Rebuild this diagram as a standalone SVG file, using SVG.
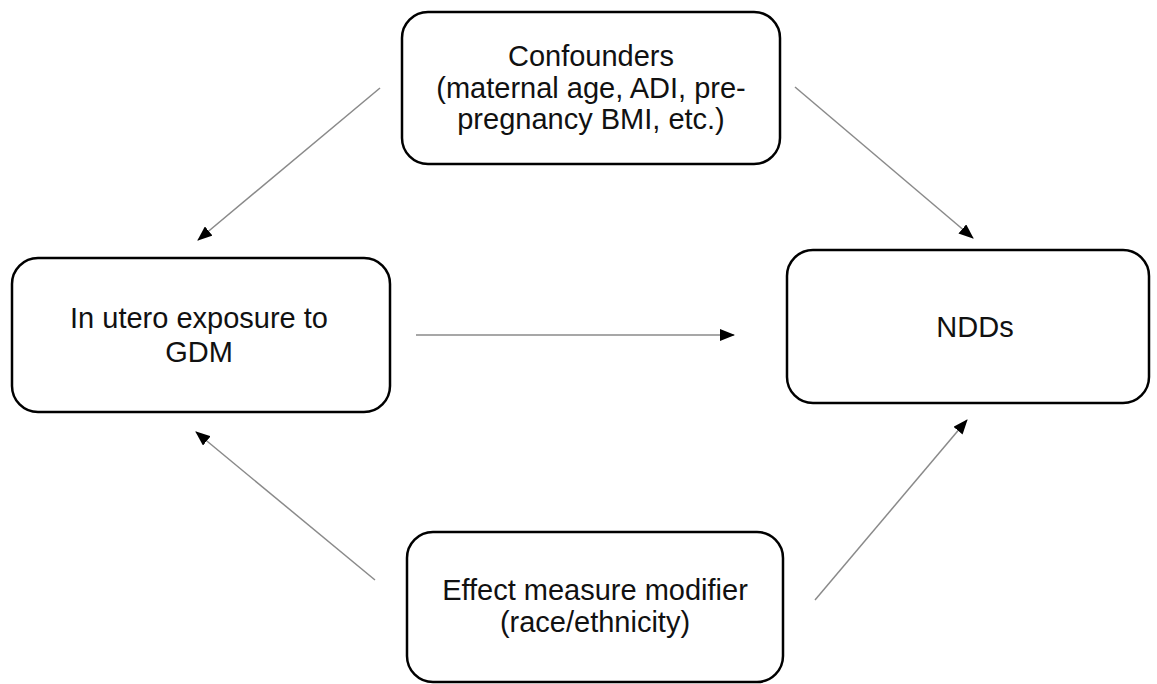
<svg xmlns="http://www.w3.org/2000/svg" width="1157" height="684" viewBox="0 0 1157 684">
<style>
.box{fill:#fff;stroke:#000;stroke-width:2.5}
.t{font-family:"Liberation Sans",Arial,sans-serif;font-size:29px;fill:#111;text-anchor:middle}
.c{stroke:#8a8a8a;stroke-width:1.5;fill:none;marker-end:url(#ah)}
</style>
<defs>
<marker id="ah" markerWidth="15" markerHeight="12" refX="14" refY="6" orient="auto" markerUnits="userSpaceOnUse">
<path d="M0,0 L15,6 L0,12 Z" fill="#000"/>
</marker>
</defs>
<rect width="1157" height="684" fill="#fff"/>
<g id="connectors">
<line class="c" x1="380" y1="88" x2="198" y2="240"/>
<line class="c" x1="795" y1="87" x2="973" y2="238"/>
<line class="c" x1="416" y1="335" x2="734" y2="335"/>
<line class="c" x1="375" y1="580" x2="196" y2="432"/>
<line class="c" x1="815" y1="600" x2="967" y2="420"/>
</g>
<g id="confounders">
<rect class="box" x="402" y="12" width="378" height="152" rx="26"/>
<text class="t" x="591" y="66">Confounders</text>
<text class="t" x="591" y="98">(maternal age, ADI, pre-</text>
<text class="t" x="591" y="129">pregnancy BMI, etc.)</text>
</g>
<g id="exposure">
<rect class="box" x="12" y="258" width="378" height="154" rx="26"/>
<text class="t" x="199" y="328">In utero exposure to</text>
<text class="t" x="199" y="362">GDM</text>
</g>
<g id="ndds">
<rect class="box" x="787" y="250" width="362" height="153" rx="26"/>
<text class="t" x="975" y="337">NDDs</text>
</g>
<g id="modifier">
<rect class="box" x="407" y="532" width="376" height="150" rx="26"/>
<text class="t" x="595" y="600">Effect measure modifier</text>
<text class="t" x="595" y="632">(race/ethnicity)</text>
</g>
</svg>
